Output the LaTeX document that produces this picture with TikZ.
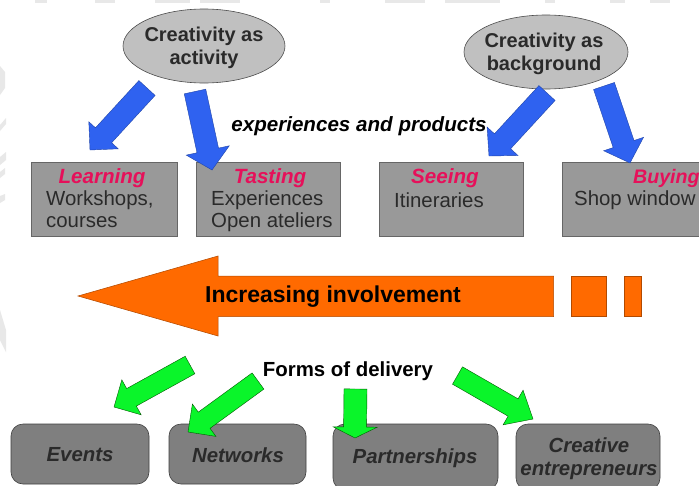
\documentclass[tikz,border=0pt]{standalone}
\usepackage{fontspec}
\setmainfont{Liberation Sans}
\usetikzlibrary{calc,shapes.geometric}
\definecolor{boxgray}{HTML}{999999}
\definecolor{darkbox}{HTML}{7F7F7F}
\definecolor{ovalgray}{HTML}{C0C0C0}
\definecolor{bluearrow}{HTML}{2F62F0}
\definecolor{greenarrow}{HTML}{0AF52A}
\definecolor{orangearrow}{HTML}{FF6A00}
\definecolor{pinktitle}{HTML}{E6105A}
\definecolor{inktext}{HTML}{2A2A2A}
\definecolor{ghost}{HTML}{E8E8E8}
\tikzset{
  x=1pt,y=-1pt,
  oval/.style={draw=black!70,line width=.6pt,fill=ovalgray},
  flatbox/.style={fill=boxgray,draw=black!60,line width=.4pt},
  softbox/.style={fill=darkbox,draw=black!75,line width=.6pt,rounded corners=12pt},
  ovaltext/.style={font=\fontsize{20}{23}\selectfont\bfseries,align=center,text=inktext},
  boxtitle/.style={font=\fontsize{20.6}{24}\selectfont\bfseries\itshape,text=pinktitle,inner sep=0pt},
  boxbody/.style={font=\fontsize{20.4}{24}\selectfont,text=inktext,anchor=west,inner sep=0pt},
  softtext/.style={font=\fontsize{20.4}{23}\selectfont\bfseries\itshape,text=inktext,align=center,inner sep=0pt},
  plaintitle/.style={inner sep=0pt,text=black},
  bluepoly/.style={fill=bluearrow,draw=bluearrow!70!black,line width=.4pt},
  greenpoly/.style={fill=greenarrow,draw=green!35!black,line width=.4pt},
  orangepoly/.style={fill=orangearrow,draw=orangearrow!70!black,line width=.5pt},
  ghostmark/.style={fill=ghost},
}
% block arrow: style, tail, tip, half shaft, half head, head length
\newcommand{\blockarrow}[6]{%
  \coordinate (hb) at ($(#3)!#6pt!(#2)$);
  \draw[#1] ($(#2)!#4pt!90:(#3)$) -- ($(hb)!#4pt!90:(#3)$) -- ($(hb)!#5pt!90:(#3)$) -- (#3)
    -- ($(hb)!#5pt!-90:(#3)$) -- ($(hb)!#4pt!-90:(#3)$) -- ($(#2)!#4pt!-90:(#3)$) -- cycle;
}
\begin{document}
\begin{tikzpicture}
\useasboundingbox (0,0) rectangle (699,485);
\clip (0,0) rectangle (699,485);
\fill[white] (0,0) rectangle (699,485);
% faint scan marks along the top and left edges
\foreach \a/\b in {35/47,95/115,155/190,200/240,320/330,385/425,445/500,545/555,610/625,650/670}
  \fill[ghostmark] (\a,0) rectangle (\b,2.5);
\fill[ghostmark] (0,66) -- (5,72) -- (5,88) -- (0,95) -- cycle;
\fill[ghostmark] (0,125) -- (6,118) -- (6,124) -- (0,131) -- cycle;
\fill[ghostmark] (0,157) -- (6,152) -- (6,160) -- (0,165) -- cycle;
\fill[ghostmark] (0,172) -- (5,168) -- (5,174) -- (0,178) -- cycle;
\fill[ghostmark] (0,196) -- (5,194) -- (5,200) -- (0,203) -- cycle;
\fill[ghostmark] (0,310) -- (6,330) -- (6,352) -- (0,340) -- cycle;
% boxes
\node[oval,ellipse,minimum width=162pt,minimum height=74pt,inner sep=0pt] (act) at (204,46) {};
\node[ovaltext] at (204,48) {Creativity as\\activity};
\node[oval,ellipse,minimum width=164pt,minimum height=74pt,inner sep=0pt] (bg) at (546,52) {};
\node[ovaltext] at (544,54) {Creativity as\\background};
\draw[flatbox] (31,162) rectangle (177,236);
\draw[flatbox] (196,162) rectangle (340,236);
\draw[flatbox] (379,162) rectangle (523,236);
\draw[flatbox] (562,162) rectangle (720,236);
\node[boxtitle] (t1) at (102,178.5) {Learning};
\node[boxbody] (b1) at (46,200.5) {Workshops,};
\node[boxbody] (b2) at (46,222.5) {courses};
\node[boxtitle] (t2) at (270,178.5) {Tasting};
\node[boxbody] (b3) at (211,200.5) {Experiences};
\node[boxbody] (b4) at (211,222.5) {Open ateliers};
\node[boxtitle] (t3) at (445,178.5) {Seeing};
\node[boxbody] (b5) at (394,200.5) {Itineraries};
\node[boxtitle,anchor=west,font=\fontsize{19.6}{24}\selectfont\bfseries\itshape] (t4) at (633,178.5) {Buying};
\node[boxbody] (b6) at (574,200.5) {Shop window};
\node[font=\fontsize{20.6}{24}\selectfont\bfseries\itshape,text=black,inner sep=0pt] (ep) at (359,126) {experiences and products};
% blue arrows
\coordinate (a1) at (147,88); \coordinate (a1t) at (90,150);
\coordinate (a2) at (195,91.5); \coordinate (a2t) at (212,170);
\coordinate (a3) at (547,93); \coordinate (a3t) at (489,156);
\coordinate (a4) at (604,86); \coordinate (a4t) at (630,163);
\blockarrow{bluepoly}{a1}{a1t}{11}{20}{20}
\blockarrow{bluepoly}{a2}{a2t}{11}{22}{20}
\blockarrow{bluepoly}{a3}{a3t}{11}{21}{20}
\blockarrow{bluepoly}{a4}{a4t}{11}{21}{20}
% orange arrow
\draw[orangepoly] (78,296) -- (218,256) -- (218,276) -- (553.5,276) -- (553.5,316.5) -- (218,316.5) -- (218,336) -- cycle;
\draw[orangepoly] (571,276) rectangle (606,316.5);
\draw[orangepoly] (624,276) rectangle (641,316.5);
\node[plaintitle,font=\fontsize{23}{26}\selectfont\bfseries] (inv) at (333,297) {Increasing involvement};
\node[plaintitle,font=\fontsize{20.4}{24}\selectfont\bfseries] (fd) at (348,371) {Forms of delivery};
% bottom boxes
\draw[softbox] (11,424) rectangle (149,484);
\draw[softbox] (169,424) rectangle (306,484);
\draw[softbox] (333,424) rectangle (498,490);
\draw[softbox] (516,424) rectangle (660,490);
\node[softtext] (e1) at (80,455) {Events};
\node[softtext] (e2) at (238,455) {Networks};
\node[softtext] (e3) at (415,458) {Partnerships};
\node[softtext] (e4) at (589,459) {Creative\\entrepreneurs};
% green arrows
\coordinate (g1) at (190,365); \coordinate (g1t) at (114,407);
\coordinate (g2) at (258,381); \coordinate (g2t) at (188,432);
\coordinate (g3) at (355.5,389); \coordinate (g3t) at (355,438);
\coordinate (g4) at (457.5,375.5); \coordinate (g4t) at (533,419);
\blockarrow{greenpoly}{g1}{g1t}{10}{20}{20}
\blockarrow{greenpoly}{g2}{g2t}{10}{20}{20}
\blockarrow{greenpoly}{g3}{g3t}{11.5}{22}{11}
\blockarrow{greenpoly}{g4}{g4t}{10}{20}{23}
\end{tikzpicture}
\end{document}
